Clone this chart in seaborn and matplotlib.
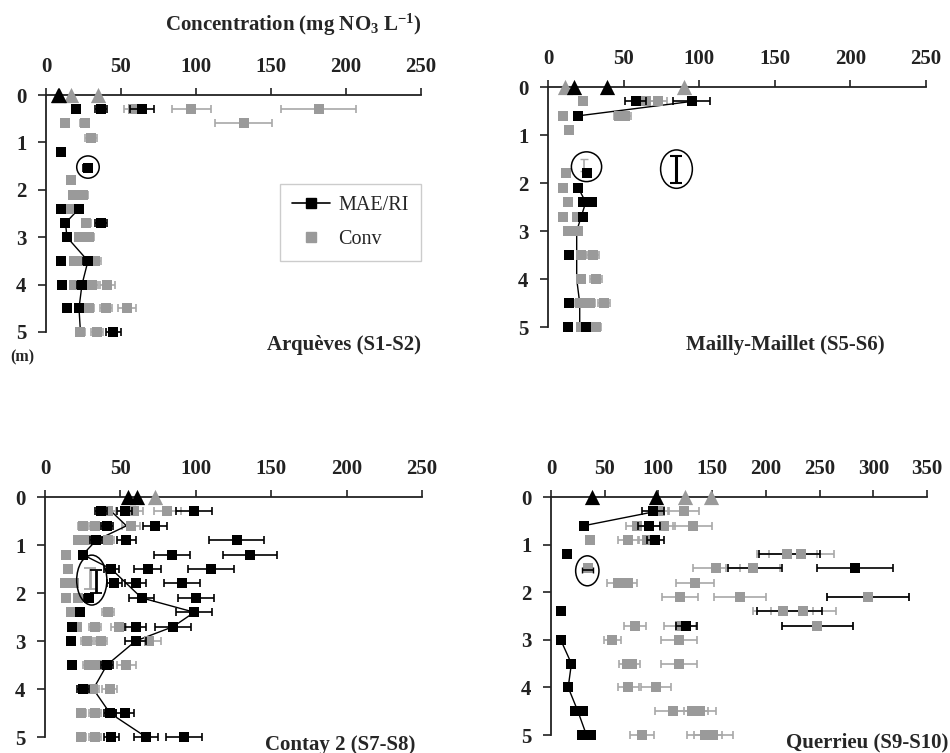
import matplotlib
matplotlib.use("Agg")
import matplotlib.pyplot as plt
from matplotlib.patches import Ellipse
from matplotlib.lines import Line2D
import seaborn as sns

# ---------------- data ----------------
# Arqueves (S1-S2)
p1_mae_depth = [0.3, 0.3, 0.3, 1.2, 1.55, 2.4, 2.4, 2.7, 2.7, 3.0, 3.5, 3.5, 4.0, 4.0, 4.5, 4.5, 5.0]
p1_mae_val = [20, 37, 64, 10, 28, 10, 22, 13, 37, 14, 10, 28, 11, 24, 14, 22, 45]
p1_mae_err = [0, 4, 8, 0, 3, 0, 2, 0, 4, 0, 0, 3, 0, 3, 0, 0, 5]
p1_conv_depth = [0.3, 0.3, 0.3, 0.6, 0.6, 0.6, 0.9, 1.8, 2.1, 2.1, 2.4, 2.4, 2.7, 3.0, 3.0,
                 3.5, 3.5, 3.5, 4.0, 4.0, 4.0, 4.5, 4.5, 4.5, 5.0, 5.0]
p1_conv_val = [58, 97, 182, 13, 26, 132, 30, 17, 18, 25, 16, 20, 27, 22, 29,
               19, 23, 33, 19, 31, 41, 29, 40, 54, 23, 34]
p1_conv_err = [6, 13, 25, 0, 3, 19, 4, 2, 2, 3, 2, 2, 3, 2, 3,
               2, 2, 4, 2, 4, 5, 3, 4, 6, 3, 4]
p1_tri_black = [8, 9]
p1_tri_grey = [17, 35]
p1_line_depth = [2.4, 2.7, 3.0, 3.5, 4.0, 4.5, 5.0]
p1_line_val = [22, 13, 14, 28, 24, 22, 23]

# Mailly-Maillet (S5-S6)
p2_mae_depth = [0.3, 0.3, 0.6, 1.8, 2.1, 2.4, 2.4, 2.7, 3.5, 4.5, 5.0, 5.0]
p2_mae_val = [58, 95, 20, 26, 20, 23, 29, 23, 14, 14, 13, 25]
p2_mae_err = [7, 12, 0, 2, 0, 2, 3, 2, 0, 0, 0, 0]
p2_conv_depth = [0.3, 0.3, 0.3, 0.6, 0.6, 0.6, 0.9, 1.8, 2.1, 2.4, 2.7, 2.7, 3.0, 3.0,
                 3.5, 3.5, 4.0, 4.0, 4.5, 4.5, 4.5, 5.0, 5.0]
p2_conv_val = [23, 65, 73, 10, 47, 51, 14, 12, 10, 13, 10, 19, 13, 20,
               22, 30, 22, 32, 21, 28, 37, 22, 32]
p2_conv_err = [2, 5, 6, 0, 3, 4, 0, 0, 0, 0, 0, 2, 0, 2,
               3, 4, 2, 4, 3, 3, 4, 2, 3]
p2_tri_black = [17, 39]
p2_tri_grey = [11, 90]
p2_line1_depth = [0.3, 0.6]
p2_line1_val = [95, 20]
p2_line2_depth = [2.1, 2.4, 2.7, 3.0, 3.5, 4.0, 4.5, 5.0]
p2_line2_val = [20, 25, 22, 19, 19, 19, 21, 21]

# Contay 2 (S7-S8)
p3_mae_depth = [0.3, 0.3, 0.3, 0.6, 0.6, 0.9, 0.9, 0.9, 1.2, 1.2, 1.2, 1.5, 1.5, 1.5,
                1.8, 1.8, 1.8, 2.1, 2.1, 2.1, 2.4, 2.4, 2.7, 2.7, 2.7, 3.0, 3.0,
                3.5, 3.5, 4.0, 4.5, 4.5, 5.0, 5.0, 5.0]
p3_mae_val = [37, 53, 99, 41, 73, 34, 54, 127, 25, 84, 136, 44, 68, 110,
              46, 60, 91, 29, 64, 100, 23, 99, 18, 60, 85, 17, 60,
              18, 41, 25, 43, 53, 44, 67, 92]
p3_mae_err = [4, 5, 12, 4, 8, 4, 6, 18, 0, 12, 18, 5, 9, 15,
              5, 7, 12, 3, 8, 12, 0, 12, 0, 7, 12, 0, 7,
              0, 4, 4, 4, 6, 5, 8, 12]
p3_conv_depth = [0.3, 0.3, 0.3, 0.6, 0.6, 0.6, 0.9, 0.9, 0.9, 1.2, 1.5, 1.8, 1.8, 2.1, 2.1,
                 2.4, 2.4, 2.7, 2.7, 2.7, 3.0, 3.0, 3.0, 3.5, 3.5, 3.5, 4.0, 4.0,
                 4.5, 4.5, 5.0, 5.0]
p3_conv_val = [42, 59, 81, 25, 33, 57, 22, 28, 42, 14, 15, 13, 19, 14, 22,
               17, 42, 21, 33, 49, 28, 37, 69, 29, 35, 54, 32, 43,
               24, 33, 24, 33]
p3_conv_err = [5, 6, 9, 3, 4, 6, 3, 3, 4, 0, 0, 2, 2, 2, 3,
               0, 4, 2, 4, 5, 4, 4, 8, 4, 4, 6, 4, 5,
               3, 4, 3, 4]
p3_tri_black = [55, 61]
p3_tri_grey = [73]
p3_line_depth = [0.3, 0.6, 0.9, 1.2, 1.5, 2.1, 2.4, 2.7, 3.0, 3.5, 4.0, 4.5, 5.0]
p3_line_val = [44, 54, 34, 25, 44, 64, 99, 85, 60, 41, 32, 43, 67]

# Querrieu (S9-S10)
p4_mae_depth = [0.3, 0.6, 0.6, 0.9, 1.2, 1.5, 2.4, 2.7, 3.0, 3.5, 4.0, 4.5, 4.5, 5.0, 5.0]
p4_mae_val = [95, 31, 91, 97, 15, 283, 9, 126, 9, 19, 16, 22, 30, 29, 37]
p4_mae_err = [10, 0, 10, 8, 0, 35, 0, 10, 0, 0, 0, 0, 0, 0, 0]
p4_bar_depth = [1.2, 1.5, 2.1, 2.4, 2.7]
p4_bar_val = [222, 190, 295, 222, 248]
p4_bar_err = [28, 25, 38, 30, 33]
p4_conv_depth = [0.3, 0.3, 0.6, 0.6, 0.6, 0.9, 0.9, 0.9, 1.2, 1.2, 1.5, 1.5, 1.5,
                 1.8, 1.8, 1.8, 2.1, 2.1, 2.1, 2.4, 2.4, 2.7, 2.7, 2.7, 3.0, 3.0,
                 3.5, 3.5, 3.5, 4.0, 4.0, 4.5, 4.5, 4.5, 5.0, 5.0, 5.0]
p4_conv_val = [101, 124, 80, 105, 132, 36, 72, 89, 220, 233, 34, 154, 188,
               62, 72, 134, 120, 176, 295, 216, 235, 78, 120, 248, 57, 119,
               71, 75, 119, 72, 98, 114, 131, 139, 85, 143, 151]
p4_conv_err = [8, 14, 10, 10, 18, 0, 10, 8, 28, 30, 2, 22, 25,
               10, 8, 18, 17, 24, 38, 28, 30, 10, 15, 33, 8, 17,
               8, 8, 17, 10, 14, 17, 15, 15, 11, 16, 18]
p4_tri_black = [38, 98]
p4_tri_grey = [125, 149]
p4_line1_depth = [0.3, 0.6]
p4_line1_val = [98, 31]
p4_line2_depth = [3.0, 3.5, 4.0, 4.5, 5.0]
p4_line2_val = [9, 19, 16, 25, 33]

# ---------------- style ----------------
sns.set_style("ticks")
plt.rcParams["font.family"] = ["Liberation Serif", "DejaVu Serif"]
plt.rcParams["font.weight"] = "bold"
plt.rcParams["mathtext.fontset"] = "custom"
plt.rcParams["mathtext.rm"] = "Liberation Serif:bold"
plt.rcParams["mathtext.it"] = "Liberation Serif:bold"
plt.rcParams["mathtext.bf"] = "Liberation Serif:bold"

BLACK = "#000000"
GREY = "#9a9a9a"
GREY_BAR = "#a8a8a8"
TICK_FS = 15
LABEL_FS = 15

fig = plt.figure(figsize=(9.5, 7.53), dpi=100)


def setup(ax, xmax):
    ax.set_xlim(0, xmax)
    ax.set_ylim(5, 0)
    ax.xaxis.tick_top()
    ax.set_xticks(list(range(0, xmax + 1, 50)))
    ax.set_yticks([0, 1, 2, 3, 4, 5])
    for s in ["right", "bottom"]:
        ax.spines[s].set_visible(False)
    for s in ["left", "top"]:
        ax.spines[s].set_linewidth(1.3)
        ax.spines[s].set_color("#222222")
    ax.spines["top"].set_position(("data", 0))
    ax.tick_params(axis="x", direction="out", length=5, width=1.2, pad=8,
                   labelsize=TICK_FS, colors="#222222")
    ax.tick_params(axis="y", direction="out", length=6, width=1.2, pad=8,
                   labelsize=TICK_FS, colors="#222222")
    for lab in ax.get_xticklabels() + ax.get_yticklabels():
        lab.set_fontweight("bold")
    ax.set_xlabel("")
    ax.set_ylabel("")
    ax.set_facecolor("none")


def draw(ax, conv, mae, tri_b, tri_g, lines, xmax, extra_bars=None):
    cd, cv, ce = conv
    md, mv, me = mae
    for ld, lv in lines:
        sns.lineplot(x=lv, y=ld, sort=False, estimator=None, color=BLACK,
                     lw=1.0, ax=ax, zorder=3)
    ax.errorbar(cv, cd, xerr=ce, fmt="none", ecolor=GREY_BAR, elinewidth=1.2,
                capsize=3, capthick=1.2, zorder=2, clip_on=False)
    sns.scatterplot(x=cv, y=cd, marker="s", s=58, color=GREY, edgecolor=GREY,
                    linewidth=0, ax=ax, zorder=4, clip_on=False)
    if extra_bars is not None:
        bd, bv, be = extra_bars
        ax.errorbar(bv, bd, xerr=be, fmt="none", ecolor=BLACK, elinewidth=1.2,
                    capsize=3, capthick=1.2, zorder=3)
    ax.errorbar(mv, md, xerr=me, fmt="none", ecolor=BLACK, elinewidth=1.2,
                capsize=3, capthick=1.2, zorder=5, clip_on=False)
    sns.scatterplot(x=mv, y=md, marker="s", s=58, color=BLACK, edgecolor=BLACK,
                    linewidth=0, ax=ax, zorder=6, clip_on=False)
    sns.scatterplot(x=tri_g, y=[0] * len(tri_g), marker="^", s=120, color=GREY,
                    edgecolor=GREY, linewidth=0, ax=ax, zorder=6, clip_on=False)
    sns.scatterplot(x=tri_b, y=[0] * len(tri_b), marker="^", s=120, color=BLACK,
                    edgecolor=BLACK, linewidth=0, ax=ax, zorder=7, clip_on=False)
    setup(ax, xmax)


def ring(ax, x, y, w, h):
    ax.add_patch(Ellipse((x, y), w, h, fill=False, ec=BLACK, lw=1.1, zorder=8))


# panel 1
ax1 = fig.add_axes([0.0484, 0.5591, 0.3947, 0.3147])
draw(ax1, (p1_conv_depth, p1_conv_val, p1_conv_err),
     (p1_mae_depth, p1_mae_val, p1_mae_err), p1_tri_black, p1_tri_grey,
     [(p1_line_depth, p1_line_val)], 250)
ring(ax1, 28, 1.52, 15, 0.47)
handles = [Line2D([0], [0], color=BLACK, lw=1.2, marker="s", ms=7, label="MAE/RI"),
           Line2D([0], [0], color="none", marker="s", ms=7, mfc=GREY, mec=GREY,
                  label="Conv")]
leg = ax1.legend(handles=handles, loc="upper right", bbox_to_anchor=(1.0, 0.625),
                 borderaxespad=0, frameon=True, fancybox=False, framealpha=1,
                 prop={"family": "Liberation Serif", "size": 14.5, "weight": "normal"},
                 handlelength=1.9, handletextpad=0.4, labelspacing=0.75, borderpad=0.6)
leg.get_frame().set_edgecolor("#cccccc")
leg.get_frame().set_linewidth(1.0)

# panel 2
ax2 = fig.add_axes([0.5768, 0.5657, 0.3979, 0.3187])
draw(ax2, (p2_conv_depth, p2_conv_val, p2_conv_err),
     (p2_mae_depth, p2_mae_val, p2_mae_err), p2_tri_black, p2_tri_grey,
     [(p2_line1_depth, p2_line1_val), (p2_line2_depth, p2_line2_val)], 250)
ax2.errorbar([24], [1.62], yerr=[0.12], fmt="none", ecolor=GREY_BAR, elinewidth=1.2,
             capsize=3, zorder=3)
ring(ax2, 25.5, 1.66, 20, 0.62)
ax2.errorbar([85], [1.71], yerr=[0.28], fmt="none", ecolor=BLACK, elinewidth=2.2,
             capsize=4, capthick=1.5, zorder=5)
ring(ax2, 85, 1.71, 21, 0.8)

# panel 3
ax3 = fig.add_axes([0.0474, 0.0212, 0.3968, 0.3187])
draw(ax3, (p3_conv_depth, p3_conv_val, p3_conv_err),
     (p3_mae_depth, p3_mae_val, p3_mae_err), p3_tri_black, p3_tri_grey,
     [(p3_line_depth, p3_line_val)], 250)
ax3.errorbar([30], [1.7], yerr=[0.22], fmt="none", ecolor=GREY_BAR, elinewidth=2.0,
             capsize=4, capthick=1.3, zorder=5)
ax3.errorbar([34], [1.75], yerr=[0.24], fmt="none", ecolor=BLACK, elinewidth=2.0,
             capsize=4, capthick=1.3, zorder=5)
ring(ax3, 31, 1.73, 20, 1.04)

# panel 4
ax4 = fig.add_axes([0.58, 0.0239, 0.3958, 0.316])
draw(ax4, (p4_conv_depth, p4_conv_val, p4_conv_err),
     (p4_mae_depth, p4_mae_val, p4_mae_err), p4_tri_black, p4_tri_grey,
     [(p4_line1_depth, p4_line1_val), (p4_line2_depth, p4_line2_val)], 350,
     extra_bars=(p4_bar_depth, p4_bar_val, p4_bar_err))
ax4.errorbar([34], [1.53], xerr=[5], fmt="none", ecolor=BLACK, elinewidth=1.2,
             capsize=2.5, zorder=7)
ring(ax4, 33.8, 1.55, 21.7, 0.63)

# texts
fig.text(0.444, 0.967, "Concentration (mg NO$_3$ L$^{-1}$)", ha="right", va="center",
         fontsize=LABEL_FS, fontweight="bold")
fig.text(0.024, 0.526, "(m)", ha="center", va="center", fontsize=11.5, fontweight="bold")
fig.text(0.443, 0.542, "Arquèves (S1-S2)", ha="right", va="center", fontsize=LABEL_FS,
         fontweight="bold")
fig.text(0.931, 0.542, "Mailly-Maillet (S5-S6)", ha="right", va="center", fontsize=LABEL_FS,
         fontweight="bold")
fig.text(0.437, 0.011, "Contay 2 (S7-S8)", ha="right", va="center", fontsize=LABEL_FS,
         fontweight="bold")
fig.text(0.998, 0.0146, "Querrieu (S9-S10)", ha="right", va="center", fontsize=LABEL_FS,
         fontweight="bold")

fig.savefig("out.png", dpi=100, facecolor="white")
